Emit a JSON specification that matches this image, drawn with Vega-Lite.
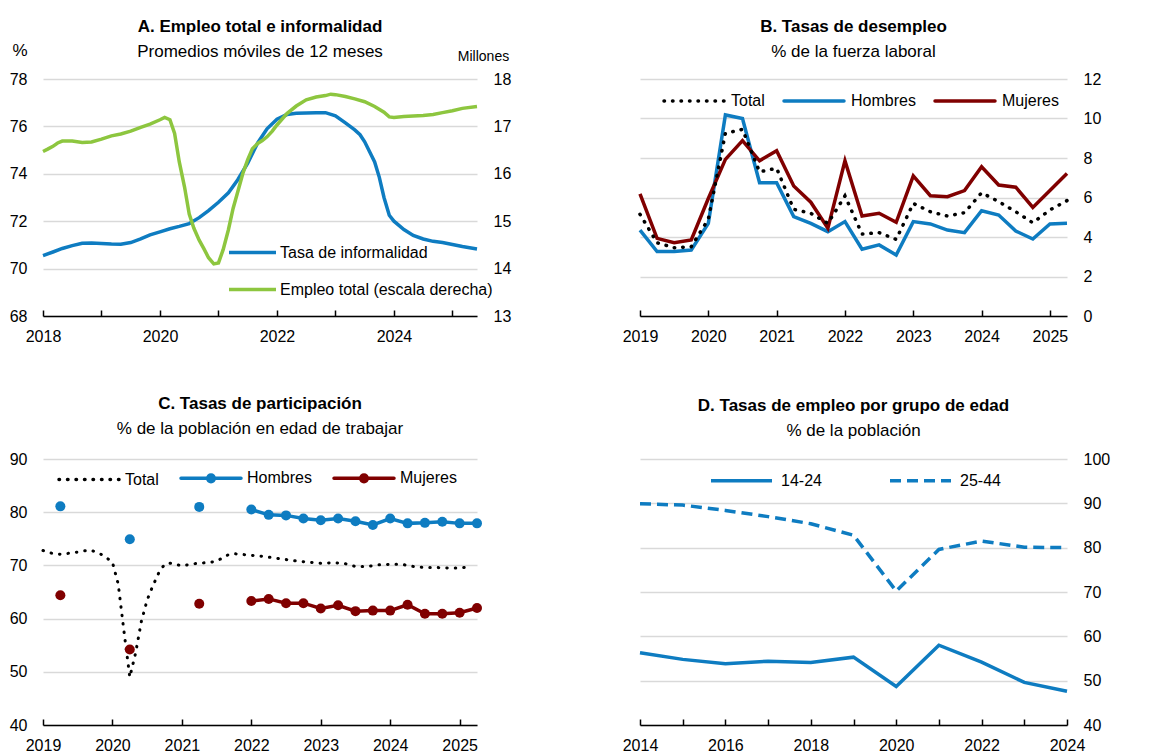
{
  "$schema": "https://vega.github.io/schema/vega-lite/v6.json",
  "background": "white",
  "padding": {"left": 9, "top": 18, "right": 5, "bottom": 0},
  "columns": 2,
  "bounds": "flush",
  "spacing": {"row": 143, "column": 163},
  "resolve": {"scale": {"color": "independent", "x": "independent", "y": "independent"}, "legend": {"color": "independent"}},
  "config": {
    "font": "Liberation Sans, Arial, sans-serif",
    "view": {"stroke": null},
    "axis": {
      "labelFont": "Liberation Sans, Arial, sans-serif",
      "labelFontSize": 16, "labelColor": "black",
      "titleFont": "Liberation Sans, Arial, sans-serif",
      "titleFontWeight": "normal", "titleColor": "black",
      "gridColor": "#d9d9d9", "gridWidth": 1.5,
      "domainColor": "black", "domainWidth": 1.5,
      "tickColor": "black", "tickWidth": 1.5
    },
    "legend": {
      "labelFont": "Liberation Sans, Arial, sans-serif",
      "labelFontSize": 16, "labelColor": "black", "labelLimit": 300
    },
    "title": {
      "font": "Liberation Sans, Arial, sans-serif",
      "fontSize": 17, "fontWeight": "bold", "color": "black",
      "subtitleFont": "Liberation Sans, Arial, sans-serif",
      "subtitleFontSize": 17, "subtitleColor": "black",
      "anchor": "middle", "frame": "group", "subtitlePadding": 8
    }
  },
  "datasets": {
    "a1": [
      {"t": 2018.0, "serie": "Tasa de informalidad", "v": 70.55},
      {"t": 2018.17, "serie": "Tasa de informalidad", "v": 70.7},
      {"t": 2018.33, "serie": "Tasa de informalidad", "v": 70.85},
      {"t": 2018.5, "serie": "Tasa de informalidad", "v": 70.97},
      {"t": 2018.67, "serie": "Tasa de informalidad", "v": 71.07},
      {"t": 2018.83, "serie": "Tasa de informalidad", "v": 71.08},
      {"t": 2019.0, "serie": "Tasa de informalidad", "v": 71.06},
      {"t": 2019.17, "serie": "Tasa de informalidad", "v": 71.04},
      {"t": 2019.33, "serie": "Tasa de informalidad", "v": 71.03},
      {"t": 2019.5, "serie": "Tasa de informalidad", "v": 71.1},
      {"t": 2019.67, "serie": "Tasa de informalidad", "v": 71.25},
      {"t": 2019.83, "serie": "Tasa de informalidad", "v": 71.42},
      {"t": 2020.0, "serie": "Tasa de informalidad", "v": 71.55},
      {"t": 2020.17, "serie": "Tasa de informalidad", "v": 71.68},
      {"t": 2020.33, "serie": "Tasa de informalidad", "v": 71.78},
      {"t": 2020.5, "serie": "Tasa de informalidad", "v": 71.9},
      {"t": 2020.67, "serie": "Tasa de informalidad", "v": 72.15},
      {"t": 2020.83, "serie": "Tasa de informalidad", "v": 72.45},
      {"t": 2021.0, "serie": "Tasa de informalidad", "v": 72.8},
      {"t": 2021.17, "serie": "Tasa de informalidad", "v": 73.2},
      {"t": 2021.33, "serie": "Tasa de informalidad", "v": 73.75},
      {"t": 2021.5, "serie": "Tasa de informalidad", "v": 74.45},
      {"t": 2021.67, "serie": "Tasa de informalidad", "v": 75.3},
      {"t": 2021.83, "serie": "Tasa de informalidad", "v": 75.9},
      {"t": 2022.0, "serie": "Tasa de informalidad", "v": 76.3},
      {"t": 2022.17, "serie": "Tasa de informalidad", "v": 76.5},
      {"t": 2022.33, "serie": "Tasa de informalidad", "v": 76.55},
      {"t": 2022.5, "serie": "Tasa de informalidad", "v": 76.57},
      {"t": 2022.67, "serie": "Tasa de informalidad", "v": 76.58},
      {"t": 2022.83, "serie": "Tasa de informalidad", "v": 76.58},
      {"t": 2023.0, "serie": "Tasa de informalidad", "v": 76.45},
      {"t": 2023.17, "serie": "Tasa de informalidad", "v": 76.15},
      {"t": 2023.33, "serie": "Tasa de informalidad", "v": 75.85},
      {"t": 2023.42, "serie": "Tasa de informalidad", "v": 75.65},
      {"t": 2023.5, "serie": "Tasa de informalidad", "v": 75.35},
      {"t": 2023.58, "serie": "Tasa de informalidad", "v": 74.95},
      {"t": 2023.67, "serie": "Tasa de informalidad", "v": 74.5},
      {"t": 2023.75, "serie": "Tasa de informalidad", "v": 73.85},
      {"t": 2023.83, "serie": "Tasa de informalidad", "v": 73.0},
      {"t": 2023.92, "serie": "Tasa de informalidad", "v": 72.25},
      {"t": 2024.0, "serie": "Tasa de informalidad", "v": 72.0},
      {"t": 2024.17, "serie": "Tasa de informalidad", "v": 71.65},
      {"t": 2024.33, "serie": "Tasa de informalidad", "v": 71.4},
      {"t": 2024.5, "serie": "Tasa de informalidad", "v": 71.25},
      {"t": 2024.67, "serie": "Tasa de informalidad", "v": 71.15},
      {"t": 2024.83, "serie": "Tasa de informalidad", "v": 71.1},
      {"t": 2025.0, "serie": "Tasa de informalidad", "v": 71.02},
      {"t": 2025.17, "serie": "Tasa de informalidad", "v": 70.93},
      {"t": 2025.42, "serie": "Tasa de informalidad", "v": 70.83}
    ],
    "a2": [
      {"t": 2018.0, "serie": "Empleo total (escala derecha)", "v": 16.47},
      {"t": 2018.08, "serie": "Empleo total (escala derecha)", "v": 16.52},
      {"t": 2018.17, "serie": "Empleo total (escala derecha)", "v": 16.58},
      {"t": 2018.25, "serie": "Empleo total (escala derecha)", "v": 16.65},
      {"t": 2018.33, "serie": "Empleo total (escala derecha)", "v": 16.69},
      {"t": 2018.5, "serie": "Empleo total (escala derecha)", "v": 16.69},
      {"t": 2018.67, "serie": "Empleo total (escala derecha)", "v": 16.66},
      {"t": 2018.83, "serie": "Empleo total (escala derecha)", "v": 16.67},
      {"t": 2019.0, "serie": "Empleo total (escala derecha)", "v": 16.73},
      {"t": 2019.17, "serie": "Empleo total (escala derecha)", "v": 16.8},
      {"t": 2019.33, "serie": "Empleo total (escala derecha)", "v": 16.84},
      {"t": 2019.5, "serie": "Empleo total (escala derecha)", "v": 16.9},
      {"t": 2019.67, "serie": "Empleo total (escala derecha)", "v": 16.98},
      {"t": 2019.83, "serie": "Empleo total (escala derecha)", "v": 17.05},
      {"t": 2020.0, "serie": "Empleo total (escala derecha)", "v": 17.14},
      {"t": 2020.08, "serie": "Empleo total (escala derecha)", "v": 17.19},
      {"t": 2020.17, "serie": "Empleo total (escala derecha)", "v": 17.14},
      {"t": 2020.25, "serie": "Empleo total (escala derecha)", "v": 16.85},
      {"t": 2020.33, "serie": "Empleo total (escala derecha)", "v": 16.25},
      {"t": 2020.42, "serie": "Empleo total (escala derecha)", "v": 15.72},
      {"t": 2020.5, "serie": "Empleo total (escala derecha)", "v": 15.15},
      {"t": 2020.58, "serie": "Empleo total (escala derecha)", "v": 14.85},
      {"t": 2020.67, "serie": "Empleo total (escala derecha)", "v": 14.6},
      {"t": 2020.75, "serie": "Empleo total (escala derecha)", "v": 14.42},
      {"t": 2020.83, "serie": "Empleo total (escala derecha)", "v": 14.23},
      {"t": 2020.92, "serie": "Empleo total (escala derecha)", "v": 14.1},
      {"t": 2021.0, "serie": "Empleo total (escala derecha)", "v": 14.12},
      {"t": 2021.08, "serie": "Empleo total (escala derecha)", "v": 14.4},
      {"t": 2021.17, "serie": "Empleo total (escala derecha)", "v": 14.82},
      {"t": 2021.25, "serie": "Empleo total (escala derecha)", "v": 15.27},
      {"t": 2021.33, "serie": "Empleo total (escala derecha)", "v": 15.62},
      {"t": 2021.42, "serie": "Empleo total (escala derecha)", "v": 16.02},
      {"t": 2021.5, "serie": "Empleo total (escala derecha)", "v": 16.3},
      {"t": 2021.58, "serie": "Empleo total (escala derecha)", "v": 16.53},
      {"t": 2021.67, "serie": "Empleo total (escala derecha)", "v": 16.64},
      {"t": 2021.75, "serie": "Empleo total (escala derecha)", "v": 16.7},
      {"t": 2021.83, "serie": "Empleo total (escala derecha)", "v": 16.78},
      {"t": 2021.92, "serie": "Empleo total (escala derecha)", "v": 16.9},
      {"t": 2022.0, "serie": "Empleo total (escala derecha)", "v": 17.03},
      {"t": 2022.17, "serie": "Empleo total (escala derecha)", "v": 17.27},
      {"t": 2022.33, "serie": "Empleo total (escala derecha)", "v": 17.43},
      {"t": 2022.5, "serie": "Empleo total (escala derecha)", "v": 17.56},
      {"t": 2022.67, "serie": "Empleo total (escala derecha)", "v": 17.62},
      {"t": 2022.83, "serie": "Empleo total (escala derecha)", "v": 17.65},
      {"t": 2022.92, "serie": "Empleo total (escala derecha)", "v": 17.68},
      {"t": 2023.0, "serie": "Empleo total (escala derecha)", "v": 17.67},
      {"t": 2023.17, "serie": "Empleo total (escala derecha)", "v": 17.63},
      {"t": 2023.33, "serie": "Empleo total (escala derecha)", "v": 17.58},
      {"t": 2023.5, "serie": "Empleo total (escala derecha)", "v": 17.52},
      {"t": 2023.67, "serie": "Empleo total (escala derecha)", "v": 17.42},
      {"t": 2023.83, "serie": "Empleo total (escala derecha)", "v": 17.3},
      {"t": 2023.92, "serie": "Empleo total (escala derecha)", "v": 17.2},
      {"t": 2024.0, "serie": "Empleo total (escala derecha)", "v": 17.19},
      {"t": 2024.17, "serie": "Empleo total (escala derecha)", "v": 17.21},
      {"t": 2024.33, "serie": "Empleo total (escala derecha)", "v": 17.22},
      {"t": 2024.5, "serie": "Empleo total (escala derecha)", "v": 17.23},
      {"t": 2024.67, "serie": "Empleo total (escala derecha)", "v": 17.25},
      {"t": 2024.83, "serie": "Empleo total (escala derecha)", "v": 17.29},
      {"t": 2025.0, "serie": "Empleo total (escala derecha)", "v": 17.33},
      {"t": 2025.17, "serie": "Empleo total (escala derecha)", "v": 17.38},
      {"t": 2025.42, "serie": "Empleo total (escala derecha)", "v": 17.42}
    ],
    "b": [
      {"t": 2019.0, "serie": "Total", "v": 5.15}, {"t": 2019.0, "serie": "Hombres", "v": 4.35}, {"t": 2019.0, "serie": "Mujeres", "v": 6.18},
      {"t": 2019.25, "serie": "Total", "v": 3.71}, {"t": 2019.25, "serie": "Hombres", "v": 3.26}, {"t": 2019.25, "serie": "Mujeres", "v": 3.93},
      {"t": 2019.5, "serie": "Total", "v": 3.46}, {"t": 2019.5, "serie": "Hombres", "v": 3.26}, {"t": 2019.5, "serie": "Mujeres", "v": 3.71},
      {"t": 2019.75, "serie": "Total", "v": 3.51}, {"t": 2019.75, "serie": "Hombres", "v": 3.34}, {"t": 2019.75, "serie": "Mujeres", "v": 3.85},
      {"t": 2020.0, "serie": "Total", "v": 4.9}, {"t": 2020.0, "serie": "Hombres", "v": 4.69}, {"t": 2020.0, "serie": "Mujeres", "v": 5.95},
      {"t": 2020.25, "serie": "Total", "v": 9.25}, {"t": 2020.25, "serie": "Hombres", "v": 10.18}, {"t": 2020.25, "serie": "Mujeres", "v": 7.93},
      {"t": 2020.5, "serie": "Total", "v": 9.45}, {"t": 2020.5, "serie": "Hombres", "v": 10.0}, {"t": 2020.5, "serie": "Mujeres", "v": 8.88},
      {"t": 2020.75, "serie": "Total", "v": 7.3}, {"t": 2020.75, "serie": "Hombres", "v": 6.75}, {"t": 2020.75, "serie": "Mujeres", "v": 7.86},
      {"t": 2021.0, "serie": "Total", "v": 7.48}, {"t": 2021.0, "serie": "Hombres", "v": 6.75}, {"t": 2021.0, "serie": "Mujeres", "v": 8.37},
      {"t": 2021.25, "serie": "Total", "v": 5.4}, {"t": 2021.25, "serie": "Hombres", "v": 5.03}, {"t": 2021.25, "serie": "Mujeres", "v": 6.58},
      {"t": 2021.5, "serie": "Total", "v": 5.2}, {"t": 2021.5, "serie": "Hombres", "v": 4.69}, {"t": 2021.5, "serie": "Mujeres", "v": 5.76},
      {"t": 2021.75, "serie": "Total", "v": 4.69}, {"t": 2021.75, "serie": "Hombres", "v": 4.27}, {"t": 2021.75, "serie": "Mujeres", "v": 4.44},
      {"t": 2022.0, "serie": "Total", "v": 6.08}, {"t": 2022.0, "serie": "Hombres", "v": 4.78}, {"t": 2022.0, "serie": "Mujeres", "v": 7.86},
      {"t": 2022.25, "serie": "Total", "v": 4.15}, {"t": 2022.25, "serie": "Hombres", "v": 3.38}, {"t": 2022.25, "serie": "Mujeres", "v": 5.06},
      {"t": 2022.5, "serie": "Total", "v": 4.22}, {"t": 2022.5, "serie": "Hombres", "v": 3.6}, {"t": 2022.5, "serie": "Mujeres", "v": 5.2},
      {"t": 2022.75, "serie": "Total", "v": 3.88}, {"t": 2022.75, "serie": "Hombres", "v": 3.09}, {"t": 2022.75, "serie": "Mujeres", "v": 4.74},
      {"t": 2023.0, "serie": "Total", "v": 5.7}, {"t": 2023.0, "serie": "Hombres", "v": 4.78}, {"t": 2023.0, "serie": "Mujeres", "v": 7.09},
      {"t": 2023.25, "serie": "Total", "v": 5.28}, {"t": 2023.25, "serie": "Hombres", "v": 4.66}, {"t": 2023.25, "serie": "Mujeres", "v": 6.09},
      {"t": 2023.5, "serie": "Total", "v": 5.06}, {"t": 2023.5, "serie": "Hombres", "v": 4.35}, {"t": 2023.5, "serie": "Mujeres", "v": 6.04},
      {"t": 2023.75, "serie": "Total", "v": 5.23}, {"t": 2023.75, "serie": "Hombres", "v": 4.22}, {"t": 2023.75, "serie": "Mujeres", "v": 6.35},
      {"t": 2024.0, "serie": "Total", "v": 6.24}, {"t": 2024.0, "serie": "Hombres", "v": 5.33}, {"t": 2024.0, "serie": "Mujeres", "v": 7.56},
      {"t": 2024.25, "serie": "Total", "v": 5.79}, {"t": 2024.25, "serie": "Hombres", "v": 5.11}, {"t": 2024.25, "serie": "Mujeres", "v": 6.63},
      {"t": 2024.5, "serie": "Total", "v": 5.28}, {"t": 2024.5, "serie": "Hombres", "v": 4.3}, {"t": 2024.5, "serie": "Mujeres", "v": 6.52},
      {"t": 2024.75, "serie": "Total", "v": 4.72}, {"t": 2024.75, "serie": "Hombres", "v": 3.9}, {"t": 2024.75, "serie": "Mujeres", "v": 5.5},
      {"t": 2025.0, "serie": "Total", "v": 5.37}, {"t": 2025.0, "serie": "Hombres", "v": 4.66}, {"t": 2025.0, "serie": "Mujeres", "v": 6.35},
      {"t": 2025.25, "serie": "Total", "v": 5.84}, {"t": 2025.25, "serie": "Hombres", "v": 4.69}, {"t": 2025.25, "serie": "Mujeres", "v": 7.22}
    ],
    "c_total": [
      {"t": 2019.0, "serie": "Total", "v": 72.8}, {"t": 2019.083, "serie": "Total", "v": 72.4},
      {"t": 2019.167, "serie": "Total", "v": 72.2}, {"t": 2019.25, "serie": "Total", "v": 72.1},
      {"t": 2019.333, "serie": "Total", "v": 72.2}, {"t": 2019.417, "serie": "Total", "v": 72.4},
      {"t": 2019.5, "serie": "Total", "v": 72.5}, {"t": 2019.583, "serie": "Total", "v": 72.7},
      {"t": 2019.667, "serie": "Total", "v": 72.9}, {"t": 2019.75, "serie": "Total", "v": 72.6},
      {"t": 2019.833, "serie": "Total", "v": 72.1}, {"t": 2019.917, "serie": "Total", "v": 71.4},
      {"t": 2020.0, "serie": "Total", "v": 70.6}, {"t": 2020.083, "serie": "Total", "v": 66.5},
      {"t": 2020.167, "serie": "Total", "v": 57.5}, {"t": 2020.25, "serie": "Total", "v": 49.0},
      {"t": 2020.333, "serie": "Total", "v": 53.5}, {"t": 2020.417, "serie": "Total", "v": 59.5},
      {"t": 2020.5, "serie": "Total", "v": 63.5}, {"t": 2020.583, "serie": "Total", "v": 66.2},
      {"t": 2020.667, "serie": "Total", "v": 68.6}, {"t": 2020.75, "serie": "Total", "v": 70.2},
      {"t": 2020.833, "serie": "Total", "v": 70.4}, {"t": 2020.917, "serie": "Total", "v": 70.2},
      {"t": 2021.0, "serie": "Total", "v": 69.9}, {"t": 2021.083, "serie": "Total", "v": 70.1},
      {"t": 2021.167, "serie": "Total", "v": 70.3}, {"t": 2021.25, "serie": "Total", "v": 70.4},
      {"t": 2021.333, "serie": "Total", "v": 70.5}, {"t": 2021.417, "serie": "Total", "v": 70.6},
      {"t": 2021.5, "serie": "Total", "v": 70.8}, {"t": 2021.583, "serie": "Total", "v": 71.4},
      {"t": 2021.667, "serie": "Total", "v": 72.0}, {"t": 2021.75, "serie": "Total", "v": 72.2},
      {"t": 2021.833, "serie": "Total", "v": 72.1}, {"t": 2021.917, "serie": "Total", "v": 72.0},
      {"t": 2022.0, "serie": "Total", "v": 71.9}, {"t": 2022.167, "serie": "Total", "v": 71.7},
      {"t": 2022.333, "serie": "Total", "v": 71.4}, {"t": 2022.5, "serie": "Total", "v": 71.1},
      {"t": 2022.667, "serie": "Total", "v": 70.8}, {"t": 2022.833, "serie": "Total", "v": 70.6},
      {"t": 2023.0, "serie": "Total", "v": 70.4}, {"t": 2023.167, "serie": "Total", "v": 70.5},
      {"t": 2023.333, "serie": "Total", "v": 70.4}, {"t": 2023.5, "serie": "Total", "v": 69.8},
      {"t": 2023.667, "serie": "Total", "v": 69.8}, {"t": 2023.833, "serie": "Total", "v": 70.1},
      {"t": 2024.0, "serie": "Total", "v": 70.2}, {"t": 2024.167, "serie": "Total", "v": 70.2},
      {"t": 2024.333, "serie": "Total", "v": 69.8}, {"t": 2024.5, "serie": "Total", "v": 69.6},
      {"t": 2024.667, "serie": "Total", "v": 69.6}, {"t": 2024.833, "serie": "Total", "v": 69.5},
      {"t": 2025.0, "serie": "Total", "v": 69.5}, {"t": 2025.167, "serie": "Total", "v": 69.8}
    ],
    "c_sex": [
      {"t": 2019.25, "serie": "Hombres", "v": 81.1, "tramo": "a"}, {"t": 2019.25, "serie": "Mujeres", "v": 64.4, "tramo": "a"},
      {"t": 2020.25, "serie": "Hombres", "v": 74.9, "tramo": "a"}, {"t": 2020.25, "serie": "Mujeres", "v": 54.2, "tramo": "a"},
      {"t": 2021.25, "serie": "Hombres", "v": 81.0, "tramo": "a"}, {"t": 2021.25, "serie": "Mujeres", "v": 62.8, "tramo": "a"},
      {"t": 2022.0, "serie": "Hombres", "v": 80.5, "tramo": "b"}, {"t": 2022.0, "serie": "Mujeres", "v": 63.3, "tramo": "b"},
      {"t": 2022.25, "serie": "Hombres", "v": 79.5, "tramo": "b"}, {"t": 2022.25, "serie": "Mujeres", "v": 63.7, "tramo": "b"},
      {"t": 2022.5, "serie": "Hombres", "v": 79.4, "tramo": "b"}, {"t": 2022.5, "serie": "Mujeres", "v": 62.9, "tramo": "b"},
      {"t": 2022.75, "serie": "Hombres", "v": 78.8, "tramo": "b"}, {"t": 2022.75, "serie": "Mujeres", "v": 62.9, "tramo": "b"},
      {"t": 2023.0, "serie": "Hombres", "v": 78.5, "tramo": "b"}, {"t": 2023.0, "serie": "Mujeres", "v": 61.9, "tramo": "b"},
      {"t": 2023.25, "serie": "Hombres", "v": 78.8, "tramo": "b"}, {"t": 2023.25, "serie": "Mujeres", "v": 62.5, "tramo": "b"},
      {"t": 2023.5, "serie": "Hombres", "v": 78.3, "tramo": "b"}, {"t": 2023.5, "serie": "Mujeres", "v": 61.4, "tramo": "b"},
      {"t": 2023.75, "serie": "Hombres", "v": 77.6, "tramo": "b"}, {"t": 2023.75, "serie": "Mujeres", "v": 61.5, "tramo": "b"},
      {"t": 2024.0, "serie": "Hombres", "v": 78.8, "tramo": "b"}, {"t": 2024.0, "serie": "Mujeres", "v": 61.5, "tramo": "b"},
      {"t": 2024.25, "serie": "Hombres", "v": 77.9, "tramo": "b"}, {"t": 2024.25, "serie": "Mujeres", "v": 62.6, "tramo": "b"},
      {"t": 2024.5, "serie": "Hombres", "v": 78.0, "tramo": "b"}, {"t": 2024.5, "serie": "Mujeres", "v": 60.9, "tramo": "b"},
      {"t": 2024.75, "serie": "Hombres", "v": 78.2, "tramo": "b"}, {"t": 2024.75, "serie": "Mujeres", "v": 60.9, "tramo": "b"},
      {"t": 2025.0, "serie": "Hombres", "v": 77.9, "tramo": "b"}, {"t": 2025.0, "serie": "Mujeres", "v": 61.1, "tramo": "b"},
      {"t": 2025.25, "serie": "Hombres", "v": 77.9, "tramo": "b"}, {"t": 2025.25, "serie": "Mujeres", "v": 62.0, "tramo": "b"}
    ],
    "d": [
      {"t": 2014, "serie": "14-24", "v": 56.3}, {"t": 2014, "serie": "25-44", "v": 89.9},
      {"t": 2015, "serie": "14-24", "v": 54.8}, {"t": 2015, "serie": "25-44", "v": 89.6},
      {"t": 2016, "serie": "14-24", "v": 53.8}, {"t": 2016, "serie": "25-44", "v": 88.4},
      {"t": 2017, "serie": "14-24", "v": 54.4}, {"t": 2017, "serie": "25-44", "v": 87.0},
      {"t": 2018, "serie": "14-24", "v": 54.1}, {"t": 2018, "serie": "25-44", "v": 85.4},
      {"t": 2019, "serie": "14-24", "v": 55.3}, {"t": 2019, "serie": "25-44", "v": 82.8},
      {"t": 2020, "serie": "14-24", "v": 48.7}, {"t": 2020, "serie": "25-44", "v": 70.2},
      {"t": 2021, "serie": "14-24", "v": 58.0}, {"t": 2021, "serie": "25-44", "v": 79.6},
      {"t": 2022, "serie": "14-24", "v": 54.2}, {"t": 2022, "serie": "25-44", "v": 81.5},
      {"t": 2023, "serie": "14-24", "v": 49.6}, {"t": 2023, "serie": "25-44", "v": 80.1},
      {"t": 2024, "serie": "14-24", "v": 47.6}, {"t": 2024, "serie": "25-44", "v": 80.0}
    ]
  },
  "concat": [
    {
      "width": 434, "height": 237,
      "title": {"text": "A. Empleo total e informalidad", "subtitle": "Promedios móviles de 12 meses", "offset": -20},
      "layer": [
        {
          "data": {"name": "a1"},
          "mark": {"type": "line", "strokeWidth": 3.5},
          "encoding": {
            "x": {"field": "t", "type": "quantitative", "scale": {"domain": [2018, 2025.42], "nice": false, "zero": false},
                  "axis": {"title": null, "values": [2018, 2019, 2020, 2021, 2022, 2023, 2024, 2025], "format": "d",
                           "labelExpr": "datum.value % 2 === 0 ? datum.label : ''", "grid": false, "tickSize": -6,
                           "labelPadding": 18, "labelOverlap": false, "labelFlush": false}},
            "y": {"field": "v", "type": "quantitative", "scale": {"domain": [68, 78], "nice": false, "zero": false},
                  "axis": {"orient": "left", "values": [68, 70, 72, 74, 76, 78], "domain": false, "ticks": false, "labelPadding": 16,
                           "title": "%", "titleAngle": 0, "titleX": -16, "titleY": -24, "titleAlign": "right",
                           "titleBaseline": "alphabetic", "titleFontSize": 17}},
            "color": {"field": "serie", "type": "nominal",
                      "scale": {"domain": ["Tasa de informalidad", "Empleo total (escala derecha)"], "range": ["#0E7CC1", "#8DC63F"]},
                      "legend": {"orient": "none", "legendX": 184, "legendY": 148, "direction": "vertical", "title": null,
                                 "symbolType": "stroke", "symbolSize": 2209, "symbolStrokeWidth": 3.5, "labelOffset": 2, "rowPadding": 3}}
          }
        },
        {
          "data": {"name": "a2"},
          "mark": {"type": "line", "strokeWidth": 3.5},
          "encoding": {
            "x": {"field": "t", "type": "quantitative"},
            "y": {"field": "v", "type": "quantitative", "scale": {"domain": [13, 18], "nice": false, "zero": false},
                  "axis": {"orient": "right", "values": [13, 14, 15, 16, 17, 18], "domain": false, "ticks": false, "grid": false,
                           "labelPadding": 16, "title": "Millones", "titleAngle": 0, "titleX": 6, "titleY": -19,
                           "titleAlign": "center", "titleBaseline": "alphabetic", "titleFontSize": 14}},
            "color": {"field": "serie", "type": "nominal"}
          }
        }
      ],
      "resolve": {"scale": {"y": "independent"}}
    },
    {
      "width": 427, "height": 237,
      "title": {"text": "B. Tasas de desempleo", "subtitle": "% de la fuerza laboral", "offset": 8},
      "data": {"name": "b"},
      "encoding": {
        "x": {"field": "t", "type": "quantitative", "scale": {"domain": [2019, 2025.25], "nice": false, "zero": false},
              "axis": {"title": null, "values": [2019, 2019.25, 2019.5, 2019.75, 2020, 2020.25, 2020.5, 2020.75, 2021, 2021.25, 2021.5, 2021.75, 2022, 2022.25, 2022.5, 2022.75, 2023, 2023.25, 2023.5, 2023.75, 2024, 2024.25, 2024.5, 2024.75, 2025, 2025.25],
                       "format": "d", "labelExpr": "datum.value % 1 === 0 ? datum.label : ''", "grid": false, "tickSize": -6,
                       "labelPadding": 18, "labelOverlap": false, "labelFlush": false}},
        "y": {"field": "v", "type": "quantitative", "scale": {"domain": [0, 12], "nice": false},
              "axis": {"orient": "right", "values": [0, 2, 4, 6, 8, 10, 12], "domain": false, "ticks": false, "labelPadding": 16, "title": null}},
        "color": {"field": "serie", "type": "nominal",
                  "scale": {"domain": ["Total", "Hombres", "Mujeres"], "range": ["black", "#0E7CC1", "#800000"]},
                  "legend": {"orient": "none", "legendX": 22, "legendY": -10, "direction": "horizontal", "title": null,
                             "symbolType": "stroke", "symbolSize": 3600, "symbolStrokeWidth": 3.5, "labelOffset": 5, "columnPadding": 12,
                             "encode": {"symbols": {"update": {"strokeDash": {"signal": "datum.value === 'Total' ? [0.5, 8] : null"}, "strokeCap": {"value": "round"}}}}}}
      },
      "layer": [
        {"transform": [{"filter": "datum.serie !== 'Total'"}], "mark": {"type": "line", "strokeWidth": 3.5}},
        {"transform": [{"filter": "datum.serie === 'Total'"}], "mark": {"type": "line", "strokeWidth": 3.5, "strokeDash": [0.5, 8], "strokeCap": "round"}}
      ]
    },
    {
      "width": 434, "height": 266,
      "title": {"text": "C. Tasas de participación", "subtitle": "% de la población en edad de trabajar", "offset": 8},
      "layer": [
        {
          "data": {"name": "c_total"},
          "mark": {"type": "line", "strokeWidth": 3, "strokeDash": [0.5, 8], "strokeCap": "round"},
          "encoding": {
            "x": {"field": "t", "type": "quantitative", "scale": {"domain": [2019, 2025.25], "nice": false, "zero": false},
                  "axis": {"title": null, "values": [2019, 2019.25, 2019.5, 2019.75, 2020, 2020.25, 2020.5, 2020.75, 2021, 2021.25, 2021.5, 2021.75, 2022, 2022.25, 2022.5, 2022.75, 2023, 2023.25, 2023.5, 2023.75, 2024, 2024.25, 2024.5, 2024.75, 2025, 2025.25],
                           "format": "d", "labelExpr": "datum.value % 1 === 0 ? datum.label : ''", "grid": false, "tickSize": -6,
                           "labelPadding": 18, "labelOverlap": false, "labelFlush": false}},
            "y": {"field": "v", "type": "quantitative", "scale": {"domain": [40, 90], "nice": false, "zero": false},
                  "axis": {"orient": "left", "values": [40, 50, 60, 70, 80, 90], "domain": false, "ticks": false, "labelPadding": 16, "title": null}},
            "color": {"field": "serie", "type": "nominal",
                      "scale": {"domain": ["Total", "Hombres", "Mujeres"], "range": ["black", "#0E7CC1", "#800000"]},
                      "legend": {"orient": "none", "legendX": 14, "legendY": -13, "direction": "horizontal", "title": null,
                                 "symbolType": "stroke", "symbolSize": 3600, "symbolStrokeWidth": 3.5, "labelOffset": 4, "columnPadding": 15,
                                 "encode": {"symbols": {"update": {
                                   "strokeDash": {"signal": "datum.value === 'Total' ? [0.5, 8] : null"},
                                   "strokeCap": {"value": "round"},
                                   "shape": {"signal": "datum.value === 'Total' ? 'stroke' : 'M-1,0L1,0M0.11,0A0.11,0.11,0,1,1,-0.11,0A0.11,0.11,0,1,1,0.11,0Z'"},
                                   "fill": {"signal": "datum.value === 'Total' ? 'transparent' : datum.value === 'Hombres' ? '#0E7CC1' : '#800000'"},
                                   "opacity": {"value": 1}}}}}}
          }
        },
        {
          "data": {"name": "c_sex"},
          "transform": [{"filter": "datum.tramo === 'b'"}],
          "mark": {"type": "line", "strokeWidth": 3.5},
          "encoding": {
            "x": {"field": "t", "type": "quantitative"},
            "y": {"field": "v", "type": "quantitative"},
            "color": {"field": "serie", "type": "nominal"}
          }
        },
        {
          "data": {"name": "c_sex"},
          "mark": {"type": "point", "filled": true, "shape": "circle", "size": 100, "opacity": 1},
          "encoding": {
            "x": {"field": "t", "type": "quantitative"},
            "y": {"field": "v", "type": "quantitative"},
            "color": {"field": "serie", "type": "nominal"}
          }
        }
      ]
    },
    {
      "width": 427, "height": 266,
      "title": {"text": "D. Tasas de empleo por grupo de edad", "subtitle": "% de la población", "offset": 8},
      "data": {"name": "d"},
      "encoding": {
        "x": {"field": "t", "type": "quantitative", "scale": {"domain": [2014, 2024], "nice": false, "zero": false},
              "axis": {"title": null, "values": [2014, 2015, 2016, 2017, 2018, 2019, 2020, 2021, 2022, 2023, 2024], "format": "d",
                       "labelExpr": "datum.value % 2 === 0 ? datum.label : ''", "grid": false, "tickSize": -6,
                       "labelPadding": 18, "labelOverlap": false, "labelFlush": false}},
        "y": {"field": "v", "type": "quantitative", "scale": {"domain": [40, 100], "nice": false, "zero": false},
              "axis": {"orient": "right", "values": [40, 50, 60, 70, 80, 90, 100], "domain": false, "ticks": false, "labelPadding": 16, "title": null}},
        "color": {"field": "serie", "type": "nominal",
                  "scale": {"domain": ["14-24", "25-44"], "range": ["#0E7CC1", "#0E7CC1"]},
                  "legend": {"orient": "none", "legendX": 69, "legendY": -11, "direction": "horizontal", "title": null,
                             "symbolType": "stroke", "symbolSize": 3721, "symbolStrokeWidth": 3.5, "labelOffset": 7, "columnPadding": 61,
                             "encode": {"symbols": {"update": {"strokeDash": {"signal": "datum.value === '25-44' ? [11, 6] : null"}}}}}}
      },
      "layer": [
        {"transform": [{"filter": "datum.serie === '14-24'"}], "mark": {"type": "line", "strokeWidth": 3.5}},
        {"transform": [{"filter": "datum.serie === '25-44'"}], "mark": {"type": "line", "strokeWidth": 3.5, "strokeDash": [11, 6]}}
      ]
    }
  ]
}
